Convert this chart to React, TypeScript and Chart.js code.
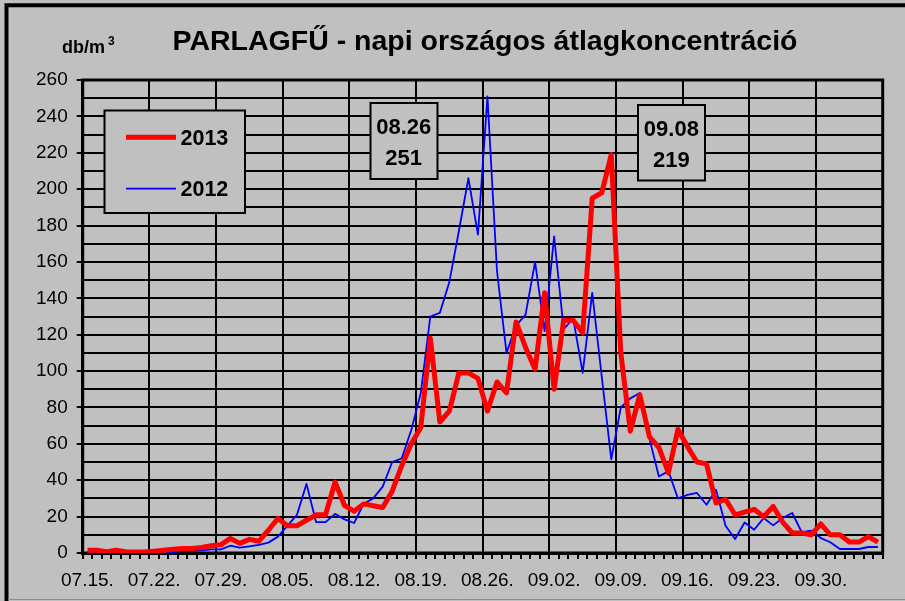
import React, { useEffect, useRef } from "react";
import { Chart, registerables } from "chart.js";

Chart.register(...registerables);

const categories: string[] = [
  "07.15.", "07.16.", "07.17.", "07.18.", "07.19.", "07.20.", "07.21.", "07.22.", "07.23.", "07.24.",
  "07.25.", "07.26.", "07.27.", "07.28.", "07.29.", "07.30.", "07.31.",
  "08.01.", "08.02.", "08.03.", "08.04.", "08.05.", "08.06.", "08.07.", "08.08.", "08.09.", "08.10.",
  "08.11.", "08.12.", "08.13.", "08.14.", "08.15.", "08.16.", "08.17.", "08.18.", "08.19.", "08.20.",
  "08.21.", "08.22.", "08.23.", "08.24.", "08.25.", "08.26.", "08.27.", "08.28.", "08.29.", "08.30.", "08.31.",
  "09.01.", "09.02.", "09.03.", "09.04.", "09.05.", "09.06.", "09.07.", "09.08.", "09.09.", "09.10.",
  "09.11.", "09.12.", "09.13.", "09.14.", "09.15.", "09.16.", "09.17.", "09.18.", "09.19.", "09.20.",
  "09.21.", "09.22.", "09.23.", "09.24.", "09.25.", "09.26.", "09.27.", "09.28.", "09.29.", "09.30.",
  "10.01.", "10.02.", "10.03.", "10.04.", "10.05.", "10.06.",
];

const values2013: number[] = [
  1.5, 1.5, 0.7, 1.5, 0.7, 0.5, 0.5, 1, 1.5, 2,
  2.5, 2.5, 3, 4, 4.5, 8, 5.3, 7.5, 6.5, 12.5,
  19, 15, 15, 18, 21, 21, 39, 26, 23, 27,
  26, 25, 34, 48, 60, 69, 118, 72, 78, 99,
  99, 96, 78, 94, 88, 127, 113, 101, 143, 90,
  128, 128, 121, 195, 198, 219, 110, 67, 87, 64,
  58, 44, 68, 58.5, 50, 49, 27.5, 29.5, 21, 22.5,
  24, 20, 25.6, 17, 11, 11, 10, 16, 10, 10,
  6, 6, 9, 6,
];

const values2012: number[] = [
  0.5, 0.5, 0.5, 0.5, 0.5, 0.5, 0.5, 0.5, 0.5, 0.7,
  1, 1, 1.5, 2, 2, 4, 3, 3.7, 4.5, 5.7,
  9, 15, 21, 38, 17, 17, 21.5, 18.5, 16.5, 27,
  30, 36.5, 50, 52, 67.6, 88, 130, 132, 149, 177,
  206, 175, 251, 155, 110, 125, 131, 160, 122, 174,
  123, 129, 99, 143, 97, 51.5, 80, 85, 88, 63,
  42, 45, 30, 32, 33, 26.5, 34.8, 15, 7.7, 16.8,
  12.8, 19.2, 15.2, 19.2, 22, 11.4, 12.3, 8.2, 5.9, 2.2,
  2.2, 2.2, 3.3, 3.3,
];

const seriesLabels = ["2013", "2012"];
const yTickStep = 10;
const yLabelStep = 20;
const xLabelEvery = 7;
const titleText = "PARLAGFŰ - napi országos átlagkoncentráció";

const FONT = "'Liberation Sans', Arial, sans-serif";
const BG = "#C0C0C0";

function peakInfo(values: number[]) {
  const max = Math.max(...values);
  const idx = values.indexOf(max);
  return { date: categories[idx].replace(/\.$/, ""), value: String(Math.round(max)) };
}

const decorPlugin = {
  id: "decor",
  beforeDraw(chart: any) {
    const { ctx, width, height } = chart;
    ctx.save();
    ctx.fillStyle = BG;
    ctx.fillRect(0, 0, width, height);
    // outer frame (left + top)
    ctx.strokeStyle = "#000";
    ctx.lineWidth = 4;
    ctx.beginPath();
    ctx.moveTo(6.5, height + 2);
    ctx.lineTo(6.5, 5.3);
    ctx.lineTo(width + 2, 5.3);
    ctx.stroke();
    ctx.strokeStyle = "#8c8c8c";
    ctx.lineWidth = 1;
    ctx.beginPath();
    ctx.moveTo(8, 599.5);
    ctx.lineTo(width, 599.5);
    ctx.stroke();
    // title
    ctx.fillStyle = "#000";
    ctx.textAlign = "center";
    ctx.textBaseline = "alphabetic";
    ctx.font = `bold 28.5px ${FONT}`;
    ctx.fillText(titleText, 485, 50);
    // unit
    ctx.textAlign = "left";
    ctx.font = `bold 18px ${FONT}`;
    ctx.fillText("db/m", 62, 53);
    const w = ctx.measureText("db/m").width;
    ctx.font = `bold 12px ${FONT}`;
    ctx.fillText("3", 62 + w + 3, 45);
    ctx.restore();
  },
  beforeDatasetsDraw(chart: any) {
    const { ctx, chartArea } = chart;
    ctx.save();
    ctx.strokeStyle = "#000";
    ctx.lineWidth = 3;
    ctx.strokeRect(chartArea.left, chartArea.top, chartArea.right - chartArea.left, chartArea.bottom - chartArea.top);
    ctx.restore();
  },
  afterDraw(chart: any) {
    const { ctx } = chart;
    const ds = chart.data.datasets;
    ctx.save();
    const box = (x: number, y: number, w: number, h: number) => {
      ctx.fillStyle = BG;
      ctx.fillRect(x, y, w, h);
      ctx.strokeStyle = "#000";
      ctx.lineWidth = 2;
      ctx.strokeRect(x, y, w, h);
    };
    // legend
    box(104.5, 110.5, 140.5, 102.5);
    const rows = [137.3, 188.7];
    ds.forEach((d: any, i: number) => {
      const y = rows[i];
      ctx.strokeStyle = d.borderColor;
      ctx.lineWidth = d.borderWidth;
      ctx.beginPath();
      ctx.moveTo(126, y);
      ctx.lineTo(176, y);
      ctx.stroke();
      ctx.fillStyle = "#000";
      ctx.font = `bold 21.5px ${FONT}`;
      ctx.textAlign = "left";
      ctx.textBaseline = "alphabetic";
      ctx.fillText(d.label, 180.5, y + 7.7);
    });
    // peak annotations
    const p12 = peakInfo(values2012);
    const p13 = peakInfo(values2013);
    const notes = [
      { x: 370.5, y: 103, w: 67, h: 76, cx: 403.7, info: p12, b1: 133.6 },
      { x: 638, y: 105, w: 67, h: 75.5, cx: 671.4, info: p13, b1: 136.2 },
    ];
    notes.forEach((n) => {
      box(n.x, n.y, n.w, n.h);
      ctx.fillStyle = "#000";
      ctx.font = `bold 22px ${FONT}`;
      ctx.textAlign = "center";
      ctx.textBaseline = "alphabetic";
      ctx.fillText(n.info.date, n.cx, n.b1);
      ctx.fillText(n.info.value, n.cx, n.b1 + 31);
    });
    ctx.restore();
  },
};

export default function App() {
  const ref = useRef<HTMLCanvasElement>(null);
  useEffect(() => {
    if (!ref.current) return;
    const chart = new Chart(ref.current, {
      type: "line",
      data: {
        labels: categories,
        datasets: [
          {
            label: seriesLabels[0],
            data: values2013,
            borderColor: "#FF0000",
            backgroundColor: "#FF0000",
            borderWidth: 5,
            borderJoinStyle: "round",
            pointRadius: 0,
            tension: 0,
            fill: false,
            order: 0,
          },
          {
            label: seriesLabels[1],
            data: values2012,
            borderColor: "#0000FF",
            backgroundColor: "#0000FF",
            borderWidth: 1.8,
            borderJoinStyle: "round",
            pointRadius: 0,
            tension: 0,
            fill: false,
            order: 1,
          },
        ],
      },
      options: {
        responsive: false,
        animation: false,
        devicePixelRatio: 1,
        layout: { padding: { top: 80, right: 22.3, left: 0, bottom: 0 } },
        plugins: {
          legend: { display: false },
          title: { display: false },
          tooltip: { enabled: false },
        },
        events: [],
        scales: {
          x: {
            type: "category",
            offset: true,
            afterFit: (s: any) => {
              s.height = 48;
            },
            grid: {
              offset: true,
              color: (c: any) => (typeof c.index === "number" && c.index % xLabelEvery === 0 ? "#000" : "rgba(0,0,0,0)"),
              tickColor: "#000",
              lineWidth: 2,
              tickWidth: 2,
              tickLength: 6,
              drawTicks: true,
            },
            border: { display: true, color: "#000", width: 3 },
            ticks: {
              autoSkip: false,
              maxRotation: 0,
              minRotation: 0,
              padding: 10,
              color: "#000",
              font: { family: FONT, size: 19 },
              callback: (_v: any, i: number) => (i % xLabelEvery === 0 ? categories[i] : ""),
            },
          },
          y: {
            type: "linear",
            min: 0,
            max: 260,
            afterFit: (s: any) => {
              s.width = 82.7;
            },
            grid: {
              color: "#000",
              lineWidth: 2,
              tickColor: (c: any) => (c.tick && c.tick.value % yLabelStep === 0 ? "#000" : "rgba(0,0,0,0)"),
              tickWidth: 2,
              tickLength: 6,
            },
            border: { display: true, color: "#000", width: 3 },
            ticks: {
              stepSize: yTickStep,
              autoSkip: false,
              maxTicksLimit: 100,
              padding: 9,
              color: "#000",
              font: { family: FONT, size: 19 },
              callback: (v: any) => (Number(v) % yLabelStep === 0 ? String(v) : ""),
            },
          },
        },
      },
      plugins: [decorPlugin],
    } as any);
    return () => chart.destroy();
  }, []);
  return (
    <div style={{ position: "absolute", left: 0, top: 0, width: 905, height: 601, background: BG }}>
      <canvas ref={ref} width={905} height={601} style={{ display: "block", width: 905, height: 601 }} />
    </div>
  );
}
